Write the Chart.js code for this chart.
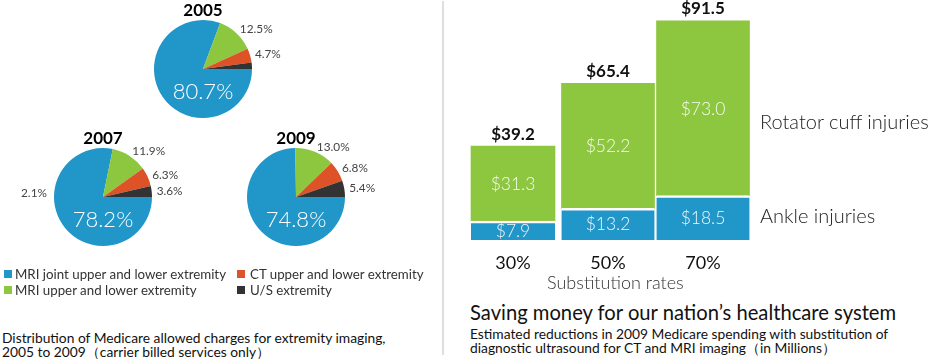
<!DOCTYPE html>
<html><head><meta charset="utf-8">
<script src="https://cdn.jsdelivr.net/npm/chart.js@4.4.1/dist/chart.umd.min.js"></script>
<style>
body{margin:0;background:#fff;width:931px;height:359px;overflow:hidden;position:relative;font-family:Lato,'Open Sans',sans-serif;}
.abs{position:absolute;white-space:nowrap;line-height:1.2;}
canvas{position:absolute;}
.sq{position:absolute;width:8px;height:8px;}
</style></head><body>
<div id="root"></div>
<script>
// ---------- data ----------
const pieYears = ['2005', '2007', '2009'];
const pie2005 = [80.7, 12.5, 4.7, 2.1];
const pie2007 = [78.2, 11.9, 6.3, 3.6];
const pie2009 = [74.8, 13.0, 6.8, 5.4];
const legendLabels = ['MRI joint upper and lower extremity', 'MRI upper and lower extremity', 'CT upper and lower extremity', 'U/S extremity'];

const categories = ['30%', '50%', '70%'];
const seriesNames = ['Ankle injuries', 'Rotator cuff injuries'];
const ankle = [7.9, 13.2, 18.5];
const rotator = [31.3, 52.2, 73.0];

// ---------- styles ----------
const BLUE = '#2196c9', GREEN = '#8dc63f', RED = '#de5227', DARK = '#333333';
const pieColors = [BLUE, GREEN, RED, DARK];
const barWidths = [84, 93, 93];

const root = document.getElementById('root');
function addText(txt, css) {
  const d = document.createElement('div');
  d.className = 'abs';
  d.textContent = txt;
  Object.assign(d.style, css);
  root.appendChild(d);
  return d;
}
function addCanvas(left, top, w, h) {
  const c = document.createElement('canvas');
  c.width = w; c.height = h;
  Object.assign(c.style, {left: left + 'px', top: top + 'px', width: w + 'px', height: h + 'px'});
  root.appendChild(c);
  return c;
}

// divider
const dv = document.createElement('div');
Object.assign(dv.style, {position: 'absolute', left: '442px', top: '1px', width: '2px', height: '354px', background: '#dedede'});
root.appendChild(dv);

// ---------- pies ----------
const pieLabels = {
  id: 'pieLabels',
  afterDatasetsDraw(chart, args, opts) {
    const ctx = chart.ctx;
    const meta = chart.getDatasetMeta(0);
    const data = chart.data.datasets[0].data;
    meta.data.forEach((arc, i) => {
      const p = arc.getProps(['x', 'y', 'startAngle', 'endAngle', 'outerRadius'], true);
      const txt = data[i].toFixed(1) + '%';
      ctx.save();
      if (i === 0) {
        ctx.font = '300 22px Lato';
        ctx.fillStyle = '#ffffff';
        ctx.textAlign = 'center';
        ctx.textBaseline = 'alphabetic';
        ctx.fillText(txt, p.x, p.y + 29.5);
      } else if (!(opts.skip || []).includes(i)) {
        const mid = (p.startAngle + p.endAngle) / 2;
        const rr = p.outerRadius + 5;
        ctx.font = '11.8px Lato';
        ctx.fillStyle = '#444';
        ctx.textAlign = 'left';
        ctx.textBaseline = 'middle';
        ctx.fillText(txt, p.x + rr * Math.cos(mid), p.y + rr * Math.sin(mid));
      }
      ctx.restore();
    });
  }
};

const pieData = [pie2005, pie2007, pie2009];
const pieCenters = [[203, 69], [103, 197], [296, 197]];
pieData.forEach((vals, k) => {
  const [cx, cy] = pieCenters[k];
  const c = addCanvas(cx - 100, cy - 70, 200, 140);
  new Chart(c, {
    type: 'pie',
    data: {labels: legendLabels, datasets: [{data: vals, backgroundColor: pieColors, borderWidth: 0, hoverOffset: 0, offset: 0}]},
    options: {
      responsive: false, animation: false, events: [], rotation: 90,
      layout: {padding: {left: 51, right: 51, top: 21, bottom: 21}},
      plugins: {legend: {display: false}, tooltip: {enabled: false}, pieLabels: {skip: k === 0 ? [3] : []}}
    },
    plugins: [pieLabels]
  });
  addText(pieYears[k], {left: (cx - 50) + 'px', width: '100px', textAlign: 'center', top: (cy - 52 - 16.8) + 'px', fontSize: '17px', fontWeight: 'bold', color: '#000'});
});
// orphan label of 2005's smallest slice
addText(pie2005[3].toFixed(1) + '%', {left: '21px', top: '186.4px', fontSize: '11.8px', color: '#444'});

// legend
const legPos = [[4, 15, 270, 266.8], [4, 15, 286, 282.8], [237, 250, 270, 266.8], [237, 250, 286, 282.8]];
legendLabels.forEach((lab, i) => {
  const [sx, tx, sy, ty] = legPos[i];
  const s = document.createElement('div');
  s.className = 'sq';
  Object.assign(s.style, {left: sx + 'px', top: sy + 'px', background: pieColors[i]});
  root.appendChild(s);
  addText(lab, {left: tx + 'px', top: ty + 'px', fontSize: '13.3px', color: '#333'});
});

// left caption
const lc = addText('', {left: '2px', top: '330.7px', fontSize: '13.8px', lineHeight: '14px', color: '#111'});
lc.innerHTML = 'Distribution of Medicare allowed charges for extremity imaging,<br>2005 to 2009（carrier billed services only）';

// ---------- bars ----------
const barLabels = {
  id: 'barLabels',
  afterDatasetsDraw(chart) {
    const ctx = chart.ctx;
    chart.data.datasets.forEach((ds, di) => {
      const meta = chart.getDatasetMeta(di);
      meta.data.forEach((el, i) => {
        const v = ds.data[i];
        if (v == null) return;
        const p = el.getProps(['x', 'y', 'base'], true);
        ctx.save();
        ctx.textAlign = 'center';
        ctx.textBaseline = 'alphabetic';
        ctx.font = '300 17.5px Lato';
        ctx.fillStyle = 'rgba(255,255,255,0.93)';
        ctx.fillText('$' + v.toFixed(1), p.x, (p.y + p.base) / 2 + 6.3);
        if (ds.series === 1) {
          ctx.font = 'bold 17px Lato';
          ctx.fillStyle = '#111';
          ctx.fillText('$' + (ankle[i] + rotator[i]).toFixed(1), p.x, p.y - 6.5);
        }
        ctx.restore();
      });
    });
  }
};

const barDatasets = [];
categories.forEach((cat, i) => {
  [ankle, rotator].forEach((arr, s) => {
    barDatasets.push({
      label: seriesNames[s],
      series: s,
      data: categories.map((_, j) => j === i ? arr[j] : null),
      backgroundColor: s === 0 ? BLUE : GREEN,
      borderColor: '#ffffff',
      borderWidth: s === 0 ? {top: 2.5, left: 0, right: 0, bottom: 0} : 0,
      borderSkipped: false,
      barThickness: barWidths[i]
    });
  });
});

const bc = addCanvas(446, 0, 485, 270);
new Chart(bc, {
  type: 'bar',
  data: {labels: categories, datasets: barDatasets},
  options: {
    responsive: false, animation: false, events: [],
    layout: {padding: {left: 19.5, right: 180.5, top: 10, bottom: 0}},
    plugins: {legend: {display: false}, tooltip: {enabled: false}},
    scales: {
      x: {
        stacked: true,
        grid: {display: false, drawTicks: false, tickLength: 0},
        border: {display: false},
        ticks: {font: {family: 'Lato', size: 18}, color: '#111', padding: 12},
        afterFit(scale) { scale.height = 30; }
      },
      y: {stacked: true, display: false, min: 0, max: 96}
    }
  },
  plugins: [barLabels]
});

addText(seriesNames[1], {left: '760px', top: '108.6px', fontSize: '20px', fontWeight: '300', color: '#222'});
addText(seriesNames[0], {left: '760px', top: '203px', fontSize: '20px', fontWeight: '300', color: '#222'});
addText('Substitution rates', {left: '547px', top: '272.2px', fontSize: '18px', fontWeight: '300', color: '#333'});
addText('Saving money for our nation’s healthcare system', {left: '470px', top: '300.3px', fontSize: '20.2px', color: '#111'});
const rc = addText('', {left: '470px', top: '326.7px', fontSize: '13.8px', lineHeight: '14px', color: '#111'});
rc.innerHTML = 'Estimated reductions in 2009 Medicare spending with substitution of<br>diagnostic ultrasound for CT and MRI imaging（in Millions）';
</script>
</body></html>
